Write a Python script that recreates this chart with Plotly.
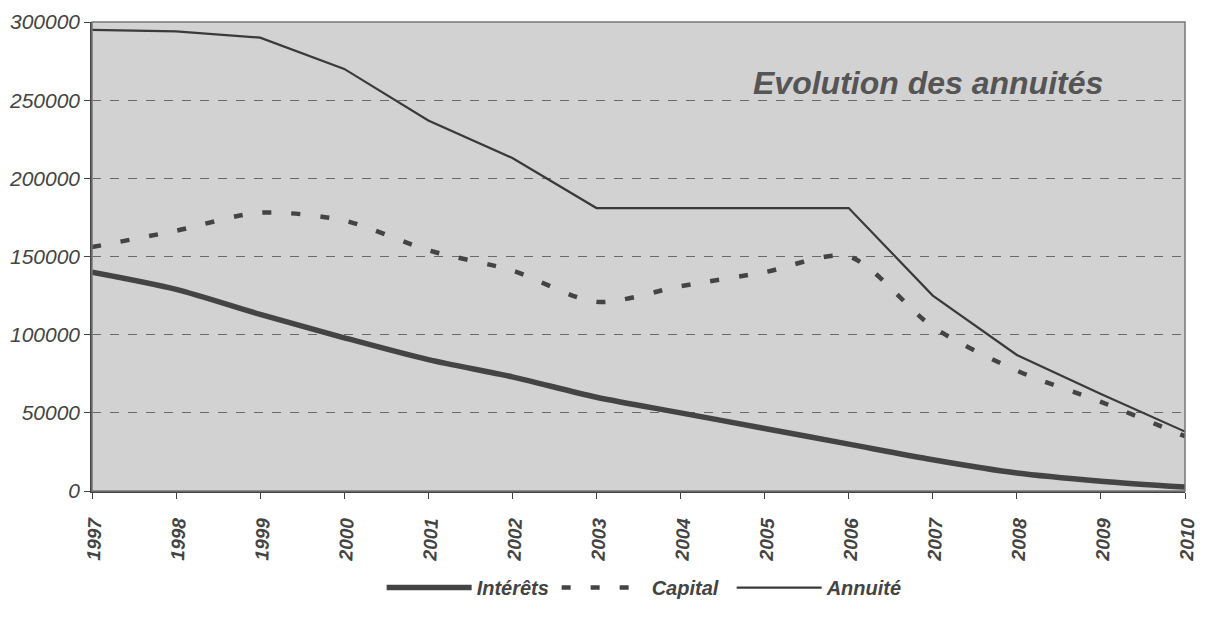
import plotly.graph_objects as go

years = [1997, 1998, 1999, 2000, 2001, 2002, 2003, 2004, 2005, 2006, 2007, 2008, 2009, 2010]
interets = [140000, 129000, 113000, 98000, 84000, 73000, 60000, 50000, 40000, 30000, 20000, 11500, 6300, 2500]
capital = [156000, 166500, 178000, 173000, 154000, 141000, 121000, 131000, 140000, 150000, 105000, 77000, 57000, 35000]
annuite = [295000, 294000, 290000, 270000, 237000, 213000, 181000, 181000, 181000, 181000, 125000, 87000, 62000, 38000]
y_ticks = [0, 50000, 100000, 150000, 200000, 250000, 300000]
title_text = "Evolution des annuités"

FONT = "Arial, Liberation Sans, sans-serif"

fig = go.Figure()
fig.add_trace(go.Scatter(x=years, y=interets, name="Intérêts", mode="lines",
                         line=dict(color="#444444", width=5.5, shape="spline", smoothing=0.8)))
fig.add_trace(go.Scatter(x=years, y=capital, name="Capital", mode="lines",
                         line=dict(color="#444444", width=4.5, dash="9px,20px", shape="spline", smoothing=0.8)))
fig.add_trace(go.Scatter(x=years, y=annuite, name="Annuité", mode="lines",
                         line=dict(color="#3a3a3a", width=2.2)))

fig.add_annotation(text=title_text, xref="paper", yref="paper", x=0.765, y=0.87,
                   showarrow=False, xanchor="center", yanchor="middle",
                   font=dict(family=FONT, size=32, color="#555555", weight="bold", style="italic"))

fig.add_shape(type="rect", xref="paper", yref="paper", x0=0, y0=0, x1=1, y1=1,
              line=dict(color="#777777", width=1.5), layer="above")

fig.update_layout(
    width=1193, height=611,
    margin=dict(l=84, r=16, t=14, b=112),
    paper_bgcolor="#ffffff",
    plot_bgcolor="#d2d2d2",
    font=dict(family=FONT, color="#444444"),
    showlegend=True,
    legend=dict(orientation="h", x=0.265, xanchor="left", y=-0.206, yanchor="middle",
                font=dict(family=FONT, size=20, color="#444444", weight="bold", style="italic"),
                bgcolor="rgba(0,0,0,0)", entrywidth=75, itemwidth=85),
    xaxis=dict(range=[1997, 2010], tickmode="array", tickvals=years, ticktext=[str(y) for y in years],
               tickangle=-88, showgrid=False, zeroline=False, automargin=False,
               ticklabeloverflow="allow", ticklabelstandoff=6,
               showline=True, linecolor="#444444", linewidth=1.5,
               ticks="outside", ticklen=6, tickcolor="#444444",
               tickfont=dict(family=FONT, size=19, color="#444444", weight="bold", style="italic")),
    yaxis=dict(range=[0, 300000], tickmode="array", tickvals=y_ticks, ticktext=[str(v) for v in y_ticks],
               showgrid=True, gridcolor="#6a6a6a", griddash="dash", gridwidth=1,
               zeroline=False, showline=True, linecolor="#444444", linewidth=1.5, automargin=False,
               ticks="outside", ticklen=6, tickcolor="#444444",
               tickfont=dict(family=FONT, size=21, color="#444444", style="italic")),
)

fig.write_html("out.html")
